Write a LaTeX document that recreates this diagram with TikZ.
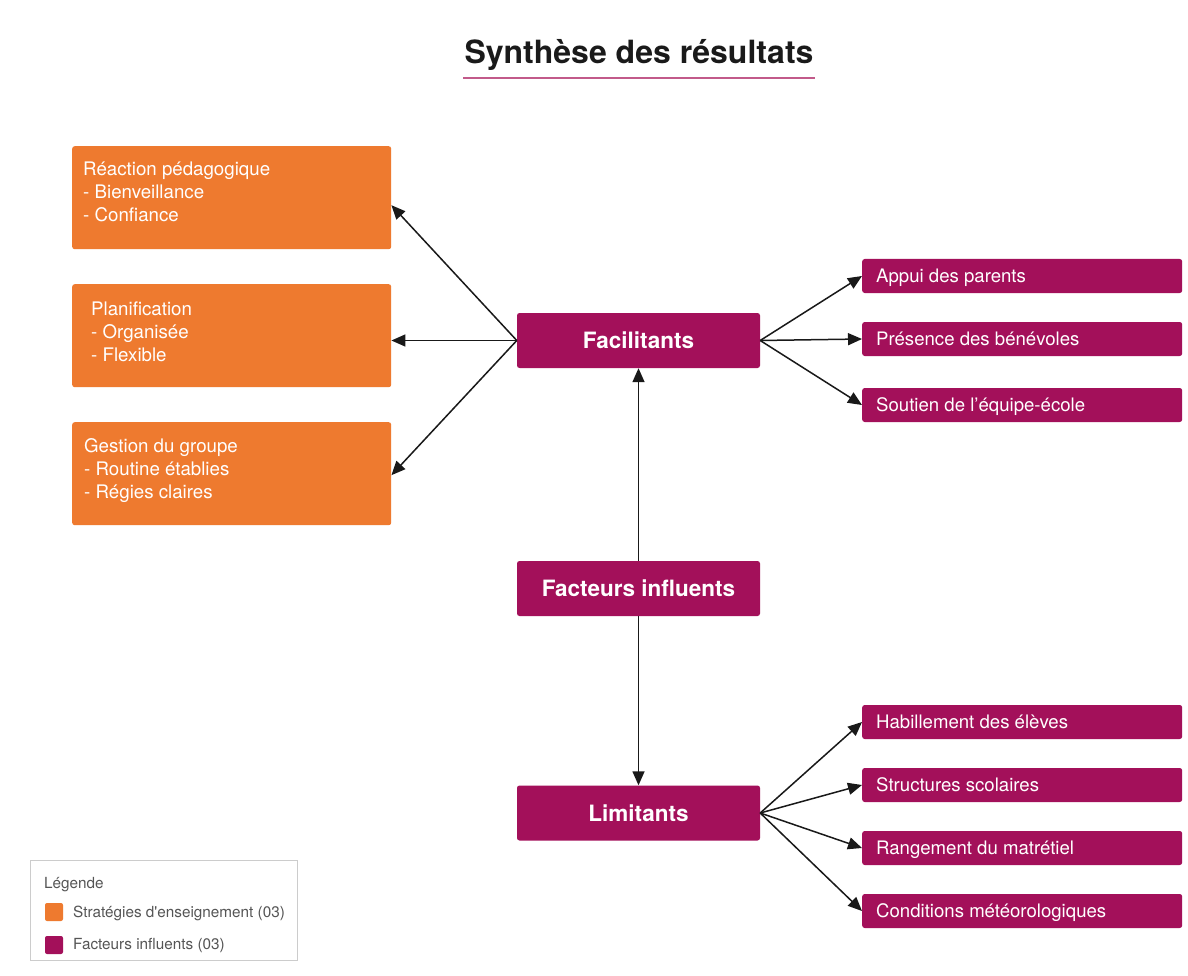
\documentclass[tikz,border=0pt]{standalone}
\usepackage{fontspec}
\setmainfont{TeX Gyre Heros}
\usetikzlibrary{arrows.meta}
\definecolor{orng}{HTML}{EE7A2F}
\definecolor{purp}{HTML}{A3105A}
\definecolor{ttl}{HTML}{1A1A1A}
\definecolor{uline}{HTML}{C25A8A}
\definecolor{lgray}{HTML}{CCCCCC}
\definecolor{ltext}{HTML}{555555}
\tikzset{
  obox/.style={fill=orng, rounded corners=2.5pt, minimum width=319pt, minimum height=103pt, inner sep=0pt, anchor=north west},
  otext/.style={anchor=base west, inner sep=0pt, text=white, font=\fontsize{18.7}{23}\selectfont},
  cbox/.style={fill=purp, rounded corners=2.5pt, minimum width=243pt, minimum height=55pt, inner sep=0pt, text=white, font=\fontsize{22.5}{26}\selectfont\bfseries},
  rbox/.style={fill=purp, rounded corners=2.5pt, minimum width=320pt, minimum height=34pt, inner sep=0pt, anchor=west},
  rtext/.style={anchor=base west, inner sep=0pt, text=white, font=\fontsize{18.6}{22}\selectfont},
  arr/.style={draw=black!90, line width=1.5pt, -{Triangle[length=14pt,width=12pt]}},
  ltxt/.style={anchor=west, inner sep=0pt, text=ltext, font=\fontsize{15.3}{18}\selectfont},
}
\begin{document}
\begin{tikzpicture}[x=1pt,y=-1pt]
\useasboundingbox[fill=white] (0,0) rectangle (1188,976);
% title
\node[text=ttl, font=\fontsize{32}{36}\selectfont\bfseries, inner sep=0pt] (title) at (639,55) {Synthèse des résultats};
\draw[uline, line width=1.5pt] (463,78) -- (815,78);
% orange boxes
\node[obox] (o1) at (72,146) {};
\node[otext] (o1t) at (83,176) {\begin{tabular}[t]{@{}l@{}}Réaction pédagogique\\- Bienveillance\\- Confiance\end{tabular}};
\node[obox] (o2) at (72,284) {};
\node[otext] (o2t) at (91,315) {\begin{tabular}[t]{@{}l@{}}Planification\\- Organisée\\- Flexible\end{tabular}};
\node[obox] (o3) at (72,422) {};
\node[otext] (o3t) at (84,452) {\begin{tabular}[t]{@{}l@{}}Gestion du groupe\\- Routine établies\\- Régies claires\end{tabular}};
% central boxes
\node[cbox] (fac) at (638.5,340.5) {Facilitants};
\node[cbox] (inf) at (638.5,588.5) {Facteurs influents};
\node[cbox] (lim) at (638.5,813) {Limitants};
% right boxes facilitants
\node[rbox] (r1) at (862,276) {};
\node[rtext] (r1t) at (876,282.5) {Appui des parents};
\node[rbox] (r2) at (862,339) {};
\node[rtext] (r2t) at (876,345.5) {Présence des bénévoles};
\node[rbox] (r3) at (862,405) {};
\node[rtext] (r3t) at (876,411.5) {Soutien de l’équipe-école};
% right boxes limitants
\node[rbox] (l1) at (862,722) {};
\node[rtext] (l1t) at (876,728.5) {Habillement des élèves};
\node[rbox] (l2) at (862,785) {};
\node[rtext] (l2t) at (876,791.5) {Structures scolaires};
\node[rbox] (l3) at (862,848) {};
\node[rtext] (l3t) at (876,854.5) {Rangement du matrétiel};
\node[rbox] (l4) at (862,911) {};
\node[rtext] (l4t) at (876,917.5) {Conditions météorologiques};
% arrows
\draw[arr] (inf.north) -- (fac.south);
\draw[arr] (inf.south) -- (lim.north);
\draw[arr] (fac.west) -- ([yshift=-7.5pt]o1.east);
\draw[arr] (fac.west) -- (fac.west -| o2.east);
\draw[arr] (fac.west) -- ([yshift=-1.5pt]o3.east);
\draw[arr] (fac.east) -- (r1.west);
\draw[arr] (fac.east) -- (r2.west);
\draw[arr] (fac.east) -- (r3.west);
\draw[arr] (lim.east) -- (l1.west);
\draw[arr] (lim.east) -- (l2.west);
\draw[arr] (lim.east) -- (l3.west);
\draw[arr] (lim.east) -- (l4.west);
% legend
\node[draw=lgray, line width=1pt, minimum width=267pt, minimum height=100pt, inner sep=0pt, anchor=north west] (leg) at (30,860) {};
\node[ltxt] (legt) at (44,885) {Légende};
\node[fill=orng, rounded corners=2pt, minimum size=18pt, inner sep=0pt] (sq1) at (54,912) {};
\node[ltxt] (sq1t) at (73,913) {Stratégies d\textquotesingle enseignement (03)};
\node[fill=purp, rounded corners=2pt, minimum size=18pt, inner sep=0pt] (sq2) at (54,945) {};
\node[ltxt] (sq2t) at (73,946) {Facteurs influents (03)};
\end{tikzpicture}
\end{document}
